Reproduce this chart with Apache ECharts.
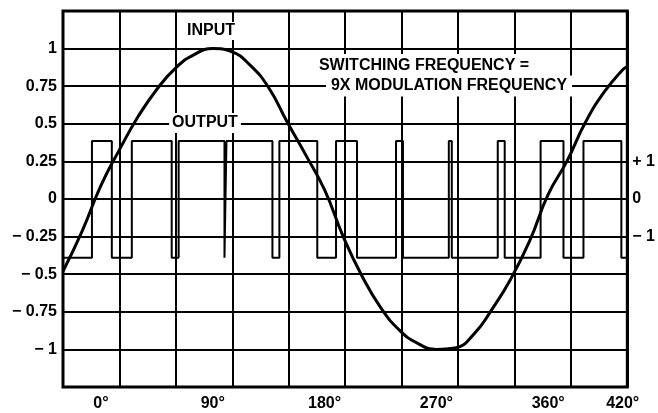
<!DOCTYPE html>
<html>
<head>
<meta charset="utf-8">
<script src="https://cdn.jsdelivr.net/npm/echarts@6/dist/echarts.min.js"></script>
<style>
  html, body { margin: 0; padding: 0; background: #fff; }
  #chart { width: 658px; height: 413px; }
</style>
</head>
<body>
<div id="chart"></div>
<script>
// input (modulating) wave, every 15 degrees
const inputDeg = [-30.6, -15, 0, 15, 30, 45, 60, 75, 90, 105, 120, 135, 150, 165, 180, 195, 210, 225,
  240, 255, 270, 285, 300, 315, 330, 345, 360, 375, 390, 405, 420, 423.7];
const inputVal = [-0.48, -0.21, 0.09, 0.33, 0.55, 0.73, 0.87, 0.96, 1.0, 0.98, 0.89, 0.74, 0.51, 0.29, 0.06, -0.25, -0.51, -0.72,
  -0.87, -0.96, -1.0, -0.99, -0.9, -0.73, -0.53, -0.28, 0.03, 0.25, 0.51, 0.71, 0.86, 0.88];

// output (switched) wave: edges in degrees, starts low
const outputEdges = [-7.3, 8.7, 24.8, 56.9, 62.5, 99.4, 101.0, 138.0, 143.6, 174.1, 189.2, 206.1, 237.5, 243.1,
  280.0, 282.4, 319.4, 325.0, 353.9, 372.3, 388.4, 418.9];
const outputHigh = 0.385;
const outputLow = -0.39;

const degTicks = [0, 90, 180, 270, 360, 420];
const rightLabels = { '0.25': '+ 1', '0': '0', '-0.25': '− 1' };

const xMin = -30.6, xMax = 423.7;

const inputData = inputDeg.map((d, i) => [d, inputVal[i]]);

const outputData = [];
let level = outputLow;
outputData.push([xMin, level]);
outputEdges.forEach(e => {
  outputData.push([e, level]);
  level = level === outputLow ? outputHigh : outputLow;
  outputData.push([e, level]);
});
outputData.push([xMax, level]);

const FONT = '"Liberation Sans", Arial, sans-serif';

const chart = echarts.init(document.getElementById('chart'));

const option = {
  animation: false,
  backgroundColor: '#fff',
  grid: {
    left: 63, right: 29, top: 11, bottom: 26,
    show: true, borderColor: '#000', borderWidth: 3, backgroundColor: 'transparent'
  },
  xAxis: [
    {
      // column grid
      type: 'value', min: 0, max: 10, interval: 1,
      axisLine: { show: false }, axisTick: { show: false }, axisLabel: { show: false },
      splitLine: { show: true, lineStyle: { color: '#000', width: 2 } }
    },
    {
      type: 'value', min: xMin, max: xMax, position: 'bottom',
      axisLine: { show: false }, axisTick: { show: false },
      splitLine: { show: false },
      axisLabel: {
        customValues: degTicks,
        formatter: v => v + '°',
        color: '#000', fontFamily: FONT, fontSize: 16, fontWeight: 'bold', margin: 9
      }
    }
  ],
  yAxis: [
    {
      type: 'value', min: -1.25, max: 1.25, interval: 0.25,
      axisLine: { show: false }, axisTick: { show: false },
      splitLine: { show: true, lineStyle: { color: '#000', width: 2 } },
      axisLabel: {
        color: '#000', fontFamily: FONT, fontSize: 16, fontWeight: 'bold', margin: 6,
        formatter: v => {
          if (Math.abs(v) > 1.01) return '';
          return v < 0 ? '− ' + String(-v) : String(v);
        }
      }
    },
    {
      type: 'value', min: -1.25, max: 1.25, interval: 0.25, position: 'right',
      axisLine: { show: false }, axisTick: { show: false }, splitLine: { show: false },
      axisLabel: {
        color: '#000', fontFamily: FONT, fontSize: 16, fontWeight: 'bold', margin: 5,
        formatter: v => rightLabels[String(v)] || ''
      }
    }
  ],
  series: [
    {
      name: 'OUTPUT', type: 'line', xAxisIndex: 1, yAxisIndex: 0,
      data: outputData, showSymbol: false,
      lineStyle: { color: '#000', width: 2 }, z: 3
    },
    {
      name: 'INPUT', type: 'line', xAxisIndex: 1, yAxisIndex: 0,
      data: inputData, smooth: 0.5, showSymbol: false,
      lineStyle: { color: '#000', width: 3 }, z: 4
    }
  ],
  graphic: [
    {
      type: 'text', x: 211, y: 31, z: 10,
      style: { text: 'INPUT', font: 'bold 16px ' + FONT, fill: '#000', align: 'center', verticalAlign: 'middle',
        backgroundColor: '#fff', padding: [1, 2] }
    },
    {
      type: 'text', x: 205, y: 123, z: 10,
      style: { text: 'OUTPUT', font: 'bold 16px ' + FONT, fill: '#000', align: 'center', verticalAlign: 'middle',
        backgroundColor: '#fff', padding: [2, 3] }
    },
    {
      type: 'text', x: 424, y: 66, z: 10,
      style: { text: 'SWITCHING FREQUENCY =', font: 'bold 16px ' + FONT, fill: '#000', align: 'center', verticalAlign: 'middle',
        backgroundColor: '#fff', padding: [6, 4, 2, 4] }
    },
    {
      type: 'text', x: 449, y: 86, z: 10,
      style: { text: '9X MODULATION FREQUENCY', font: 'bold 16px ' + FONT, fill: '#000', align: 'center', verticalAlign: 'middle',
        backgroundColor: '#fff', padding: [2, 5, 3, 5] }
    }
  ]
};

chart.setOption(option);
</script>
</body>
</html>
